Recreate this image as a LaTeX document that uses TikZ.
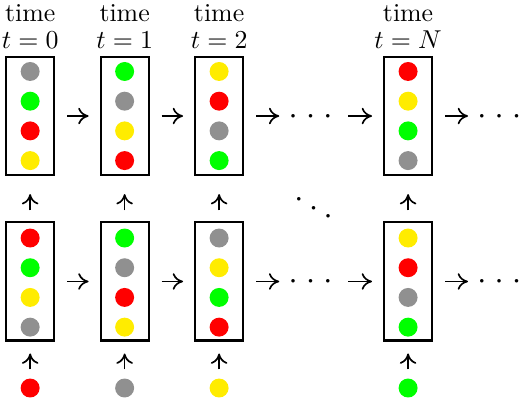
\documentclass[tikz,border=0pt]{standalone}
\usetikzlibrary{arrows.meta}

\definecolor{lampred}{RGB}{255,0,0}
\definecolor{lampgreen}{RGB}{0,255,0}
\definecolor{lampyellow}{RGB}{255,236,0}
\definecolor{lampgray}{RGB}{144,144,144}

\newcommand{\gapdot}{\scalebox{0.35}{$\bullet$}}

\tikzset{
  slot/.style={draw, rectangle, thick, minimum width=0.653cm, minimum height=1.605cm, inner sep=0pt},
  lamp/.style={circle, inner sep=0pt, minimum size=0.258cm},
  harr/.style={-{Computer Modern Rightarrow[length=4pt,width=6.4pt]}, line width=0.65pt, shorten <=0.163cm, shorten >=0.15cm},
  varr/.style={-{Computer Modern Rightarrow[length=4pt,width=6.4pt]}, line width=0.65pt},
  dotsnode/.style={inner sep=0pt}
}

\begin{document}
\begin{tikzpicture}
\useasboundingbox (0,0) rectangle (7.072,-5.413);

\node[align=center] (l0) at (0.41,-0.36) {time\\[-1.5pt]$t=0$};
\node[align=center] (l1) at (1.695,-0.36) {time\\[-1.5pt]$t=1$};
\node[align=center] (l2) at (2.98,-0.36) {time\\[-1.5pt]$t=2$};
\node[align=center] (lN) at (5.55,-0.36) {time\\[-1.5pt]$t=N$};

% upper row
\node[slot] (t0) at (0.41,-1.578) {};
\node[slot] (t1) at (1.695,-1.578) {};
\node[slot] (t2) at (2.98,-1.578) {};
\node[dotsnode] (dt) at (4.223,-1.578) {\gapdot\kern5pt\gapdot\kern5pt\gapdot};
\node[slot] (tN) at (5.55,-1.578) {};
\node[dotsnode] (dtr) at (6.79,-1.578) {\gapdot\kern5pt\gapdot\kern5pt\gapdot};

\foreach \c [count=\i] in {lampgray,lampgreen,lampred,lampyellow}
  \node[lamp, fill=\c] (t0-\i) at (0.41,{-0.568-0.404*\i}) {};
\foreach \c [count=\i] in {lampgreen,lampgray,lampyellow,lampred}
  \node[lamp, fill=\c] (t1-\i) at (1.695,{-0.568-0.404*\i}) {};
\foreach \c [count=\i] in {lampyellow,lampred,lampgray,lampgreen}
  \node[lamp, fill=\c] (t2-\i) at (2.98,{-0.568-0.404*\i}) {};
\foreach \c [count=\i] in {lampred,lampyellow,lampgreen,lampgray}
  \node[lamp, fill=\c] (tN-\i) at (5.55,{-0.568-0.404*\i}) {};

\draw[harr] (t0) -- (t1);
\draw[harr] (t1) -- (t2);
\draw[harr] (t2) -- (dt);
\draw[harr, shorten <=0.237cm] (dt) -- (tN);
\draw[harr] (tN) -- (dtr);

\node[dotsnode] (dd) at (4.264,-2.829) {\gapdot\kern3.95pt\raisebox{-3.3pt}{\gapdot}\kern3.95pt\raisebox{-6.6pt}{\gapdot}};

% lower row
\node[slot] (b0) at (0.41,-3.828) {};
\node[slot] (b1) at (1.695,-3.828) {};
\node[slot] (b2) at (2.98,-3.828) {};
\node[dotsnode] (db) at (4.223,-3.828) {\gapdot\kern5pt\gapdot\kern5pt\gapdot};
\node[slot] (bN) at (5.55,-3.828) {};
\node[dotsnode] (dbr) at (6.79,-3.828) {\gapdot\kern5pt\gapdot\kern5pt\gapdot};

\foreach \c [count=\i] in {lampred,lampgreen,lampyellow,lampgray}
  \node[lamp, fill=\c] (b0-\i) at (0.41,{-2.833-0.404*\i}) {};
\foreach \c [count=\i] in {lampgreen,lampgray,lampred,lampyellow}
  \node[lamp, fill=\c] (b1-\i) at (1.695,{-2.833-0.404*\i}) {};
\foreach \c [count=\i] in {lampgray,lampyellow,lampgreen,lampred}
  \node[lamp, fill=\c] (b2-\i) at (2.98,{-2.833-0.404*\i}) {};
\foreach \c [count=\i] in {lampyellow,lampred,lampgray,lampgreen}
  \node[lamp, fill=\c] (bN-\i) at (5.55,{-2.833-0.404*\i}) {};

\draw[harr] (b0) -- (b1);
\draw[harr] (b1) -- (b2);
\draw[harr] (b2) -- (db);
\draw[harr, shorten <=0.237cm] (db) -- (bN);
\draw[harr] (bN) -- (dbr);

% inputs
\node[lamp, fill=lampred] (u0) at (0.41,-5.277) {};
\node[lamp, fill=lampgray] (u1) at (1.695,-5.277) {};
\node[lamp, fill=lampyellow] (u2) at (2.98,-5.277) {};
\node[lamp, fill=lampgreen] (uN) at (5.55,-5.277) {};

\draw[varr, shorten <=0.15cm, shorten >=0.245cm] (b0) -- (t0);
\draw[varr, shorten <=0.15cm, shorten >=0.245cm] (b1) -- (t1);
\draw[varr, shorten <=0.15cm, shorten >=0.245cm] (b2) -- (t2);
\draw[varr, shorten <=0.15cm, shorten >=0.245cm] (bN) -- (tN);

\draw[varr, shorten <=0.116cm, shorten >=0.163cm] (u0) -- (b0);
\draw[varr, shorten <=0.116cm, shorten >=0.163cm] (u1) -- (b1);
\draw[varr, shorten <=0.116cm, shorten >=0.163cm] (u2) -- (b2);
\draw[varr, shorten <=0.116cm, shorten >=0.163cm] (uN) -- (bN);
\end{tikzpicture}
\end{document}
